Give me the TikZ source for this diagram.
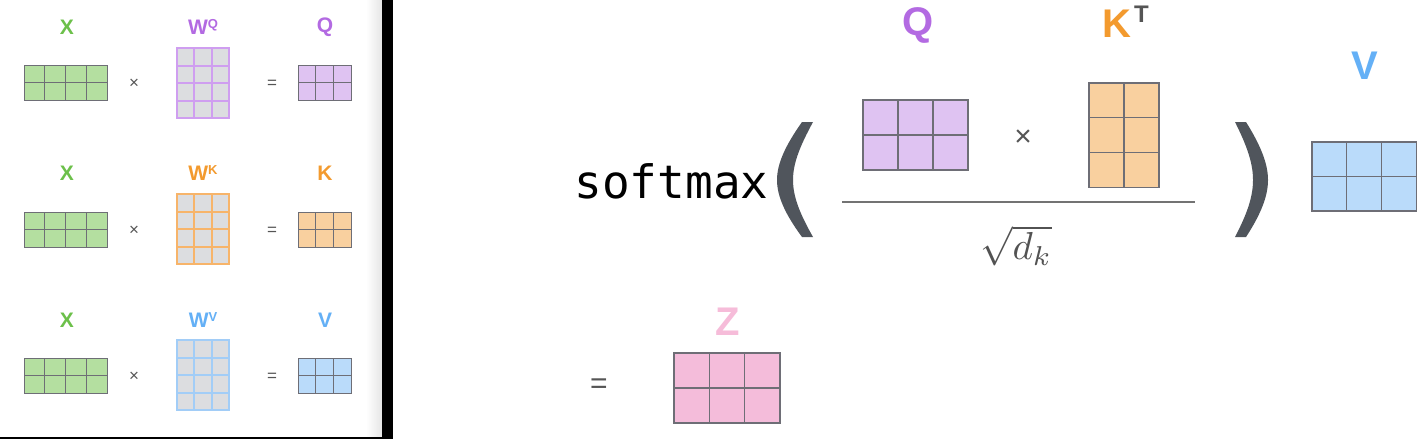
\documentclass[tikz,border=0pt]{standalone}
\usepackage{fontspec}
\setmainfont{Liberation Sans}
\newfontfamily\monofont{DejaVu Sans Mono}
\definecolor{grnL}{HTML}{6CC04A}
\definecolor{grnF}{HTML}{B4DFA0}
\definecolor{purL}{HTML}{B36AE2}
\definecolor{purF}{HTML}{DFC3F2}
\definecolor{purB}{HTML}{CF9EF0}
\definecolor{orL}{HTML}{F39A2E}
\definecolor{orF}{HTML}{F9D09F}
\definecolor{orB}{HTML}{F7B46A}
\definecolor{bluL}{HTML}{64B0F6}
\definecolor{bluF}{HTML}{BADBFA}
\definecolor{bluB}{HTML}{A2CDF7}
\definecolor{pinkL}{HTML}{F6BCD9}
\definecolor{pinkF}{HTML}{F4BCDA}
\definecolor{cellG}{HTML}{DCDDE0}
\definecolor{matB}{HTML}{6E6E76}
\definecolor{parC}{HTML}{50555C}
\definecolor{opC}{HTML}{555555}
\tikzset{
  matbox/.style={draw=matB,line width=1pt,inner sep=0pt,outer sep=0pt,rectangle},
  matline/.style={draw=matB,line width=1pt},
  wmat/.style={fill=cellG,line width=2pt},
  lbl/.style={font=\fontsize{21}{21}\selectfont\bfseries,inner sep=0pt},
  biglbl/.style={font=\fontsize{40}{40}\selectfont\bfseries,inner sep=0pt,anchor=base},
  smallop/.style={font=\fontsize{17}{17}\selectfont,text=opC,inner sep=0pt},
  bigop/.style={font=\fontsize{30}{30}\selectfont,text=opC,inner sep=0pt},
  paren/.style={fill=parC,draw=none},
}
% name, left x, top y, cols, rows, cell w, cell h, style
\newcommand{\gridmat}[8]{%
  \node[matbox,#8,anchor=north west,minimum width=#4*#6pt,minimum height=#5*#7pt] (#1) at (#2,#3) {};
  \pgfmathtruncatemacro\gmcols{#4-1}%
  \pgfmathtruncatemacro\gmrows{#5-1}%
  \foreach \k in {1,...,\gmcols} \draw[matline,#8,fill=none] ([xshift=\k*#6pt]#1.north west) -- ([xshift=\k*#6pt]#1.south west);
  \foreach \k in {1,...,\gmrows} \draw[matline,#8,fill=none] ([yshift=-\k*#7pt]#1.north west) -- ([yshift=-\k*#7pt]#1.north east);
}
\begin{document}
\begin{tikzpicture}[x=1pt,y=-1pt]
\useasboundingbox (0,0) rectangle (1423,439);
\fill[white] (0,0) rectangle (1423,439);
% left panel frame
\shade[left color=white,right color=black!10] (366,0) rectangle (382,437);
\fill[black] (382,0) rectangle (393,439);
\fill[black] (0,437) rectangle (393,439);

% ---- row 1 : Q
\node[lbl,text=grnL] (x1l) at (67,27) {X};
\gridmat{x1}{24}{65}{4}{2}{20.8}{17.5}{fill=grnF}
\node[smallop] (t1) at (134,84) {×};
\node[lbl,text=purL] (w1l) at (203,27) {W\raisebox{0.5ex}{\fontsize{13}{13}\selectfont Q}};
\gridmat{w1}{177}{48}{3}{4}{17.3}{17.5}{wmat,draw=purB}
\node[smallop] (e1) at (272,84) {=};
\node[lbl,text=purL] (q1l) at (325,27) {Q};
\gridmat{q1}{298}{65}{3}{2}{17.7}{17.5}{fill=purF}

% ---- row 2 : K
\node[lbl,text=grnL] (x2l) at (67,173) {X};
\gridmat{x2}{24}{212}{4}{2}{20.8}{17.5}{fill=grnF}
\node[smallop] (t2) at (134,231) {×};
\node[lbl,text=orL] (w2l) at (203,173) {W\raisebox{0.5ex}{\fontsize{13}{13}\selectfont K}};
\gridmat{w2}{177}{194}{3}{4}{17.3}{17.5}{wmat,draw=orB}
\node[smallop] (e2) at (272,231) {=};
\node[lbl,text=orL] (k2l) at (325,173) {K};
\gridmat{k2}{298}{212}{3}{2}{17.7}{17.5}{fill=orF}

% ---- row 3 : V
\node[lbl,text=grnL] (x3l) at (67,320) {X};
\gridmat{x3}{24}{358}{4}{2}{20.8}{17.5}{fill=grnF}
\node[smallop] (t3) at (134,377) {×};
\node[lbl,text=bluL] (w3l) at (203,320) {W\raisebox{0.5ex}{\fontsize{13}{13}\selectfont V}};
\gridmat{w3}{177}{340}{3}{4}{17.3}{17.5}{wmat,draw=bluB}
\node[smallop] (e3) at (272,377) {=};
\node[lbl,text=bluL] (v3l) at (325,320) {V};
\gridmat{v3}{298}{358}{3}{2}{17.7}{17.5}{fill=bluF}

% ---- right panel
\node[font=\monofont\fontsize{46}{46}\selectfont,inner sep=0pt,anchor=base] (sm) at (671.5,198) {softmax};
% left paren
\fill[paren] (813,122) -- (802,122) .. controls (785,146) and (777,164) .. (777,180)
  .. controls (777,196) and (785,214) .. (802,237) -- (813,237)
  .. controls (800,214) and (793,197) .. (793,180)
  .. controls (793,163) and (800,146) .. (813,122) -- cycle;
% right paren
\fill[paren] (1235,122) -- (1246,122) .. controls (1261,146) and (1268,164) .. (1268,180)
  .. controls (1268,196) and (1261,214) .. (1246,237) -- (1235,237)
  .. controls (1247,214) and (1253,197) .. (1253,180)
  .. controls (1253,163) and (1247,146) .. (1235,122) -- cycle;

\node[biglbl,text=purL] (ql) at (918,35) {Q};
\gridmat{qm}{863}{100}{3}{2}{35}{35}{fill=purF,line width=1.2pt}
\node[bigop] (tm) at (1023,138) {×};
\node[biglbl,anchor=base west] (ktl) at (1102,37) {\textcolor{orL}{K}\hspace{3pt}\raisebox{15pt}{\fontsize{24}{24}\selectfont\textcolor{opC}{T}}};
\gridmat{ktm}{1089}{83}{2}{3}{35}{34.7}{fill=orF,line width=1.2pt}
\draw[line width=2.2pt,draw=black!55] (842,202) coordinate (fl) -- (1195,202) coordinate (fr);
\node[inner sep=0pt,text=black!68,scale=3.9] (dk) at (1016,246) {$\sqrt{d_k}$};
\node[biglbl,text=bluL] (vl) at (1365,79) {V};
\gridmat{vm}{1312}{142}{3}{2}{34.7}{34.5}{fill=bluF,line width=1.2pt}

\node[bigop] (eq) at (599,386) {=};
\node[biglbl,text=pinkL] (zl) at (728,335) {Z};
\gridmat{zm}{674}{353}{3}{2}{35.3}{35}{fill=pinkF,line width=1.2pt}
\end{tikzpicture}
\end{document}
